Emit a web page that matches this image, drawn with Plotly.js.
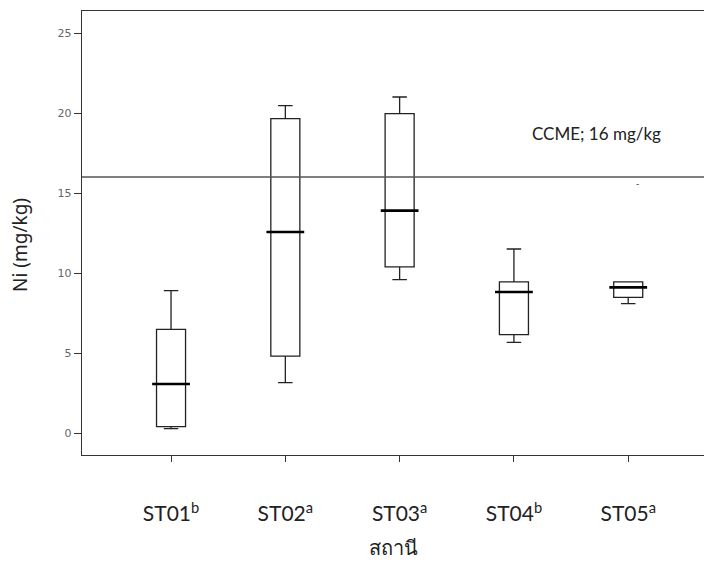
<!DOCTYPE html>
<html>
<head>
<meta charset="utf-8">
<script src="https://cdn.plot.ly/plotly-3.0.1.min.js"></script>
<style>html,body{margin:0;padding:0;background:#fff;}#chart{width:704px;height:568px;}</style>
</head>
<body>
<div id="chart"></div>
<script>
// Data
const stations = ["ST01", "ST02", "ST03", "ST04", "ST05"];
const tickLabels = ["ST01<sup>b</sup>", "ST02<sup>a</sup>", "ST03<sup>a</sup>", "ST04<sup>b</sup>", "ST05<sup>a</sup>"];
const lowerWhisker = [0.27, 3.15, 9.58, 5.67, 8.08];
const q1Values = [0.40, 4.81, 10.38, 6.15, 8.48];
const medianValues = [3.06, 12.56, 13.90, 8.81, 9.10];
const q3Values = [6.48, 19.65, 19.96, 9.44, 9.44];
const upperWhisker = [8.90, 20.46, 21.00, 11.50, 9.44];
const ccmeLimit = 16;
const ccmeLabel = "CCME; 16 mg/kg";
const st05Outlier = 15.56;

const boxTrace = {
  type: "box",
  x: stations,
  q1: q1Values,
  median: medianValues,
  q3: q3Values,
  lowerfence: lowerWhisker,
  upperfence: upperWhisker,
  width: 0.254,
  whiskerwidth: 0.5,
  fillcolor: "rgba(255,255,255,0)",
  line: { color: "#222", width: 1.3 },
  boxpoints: false,
  hoverinfo: "skip",
  showlegend: false
};

const medianTrace = {
  type: "scatter",
  mode: "markers",
  x: stations,
  y: medianValues,
  marker: { symbol: "line-ew", size: 27, line: { color: "#000", width: 2.6 } },
  hoverinfo: "skip",
  showlegend: false
};

const layout = {
  width: 704,
  height: 568,
  margin: { l: 82, r: 0, t: 11, b: 113 },
  paper_bgcolor: "#fff",
  plot_bgcolor: "#fff",
  showlegend: false,
  xaxis: {
    type: "category",
    range: [-0.779, 4.663],
    tickvals: stations,
    ticktext: tickLabels,
    ticks: "outside",
    ticklen: 6,
    tickcolor: "#333",
    ticklabelstandoff: 34,
    showline: true,
    linecolor: "#333",
    linewidth: 1.2,
    mirror: true,
    showgrid: false,
    zeroline: false,
    tickfont: { family: "Lato, sans-serif", size: 21, color: "#222" },
    title: { text: "สถานี", font: { family: "Noto Sans, sans-serif", size: 20, color: "#222" }, standoff: 16 }
  },
  yaxis: {
    range: [-1.375, 26.375],
    tickvals: [0, 5, 10, 15, 20, 25],
    ticks: "outside",
    ticklen: 7,
    tickcolor: "#333",
    showline: true,
    linecolor: "#333",
    linewidth: 1.2,
    showgrid: false,
    zeroline: false,
    tickfont: { family: "DejaVu Sans, sans-serif", size: 11, color: "#666" }
  },
  shapes: [
    { type: "line", xref: "paper", x0: 0, x1: 1, yref: "y", y0: ccmeLimit, y1: ccmeLimit, line: { color: "#555", width: 1.3 } }
  ],
  annotations: [
    { xref: "paper", yref: "paper", x: 0, y: 0.473, xshift: -62, text: "Ni (mg/kg)", textangle: -90, showarrow: false,
      xanchor: "center", yanchor: "middle", font: { family: "Noto Sans, sans-serif", size: 19, color: "#222" } },
    { xref: "x", yref: "y", x: "ST04", y: 18.75, xshift: 16, text: ccmeLabel, showarrow: false, xanchor: "left", yanchor: "middle",
      font: { family: "Lato, sans-serif", size: 17, color: "#222" } },
    { xref: "x", yref: "y", x: "ST05", y: st05Outlier, xshift: 9, text: "-", showarrow: false, xanchor: "center", yanchor: "middle",
      font: { family: "DejaVu Sans, sans-serif", size: 9, color: "#333" } }
  ]
};

Plotly.newPlot("chart", [boxTrace, medianTrace], layout, { displayModeBar: false, staticPlot: true });
</script>
</body>
</html>
